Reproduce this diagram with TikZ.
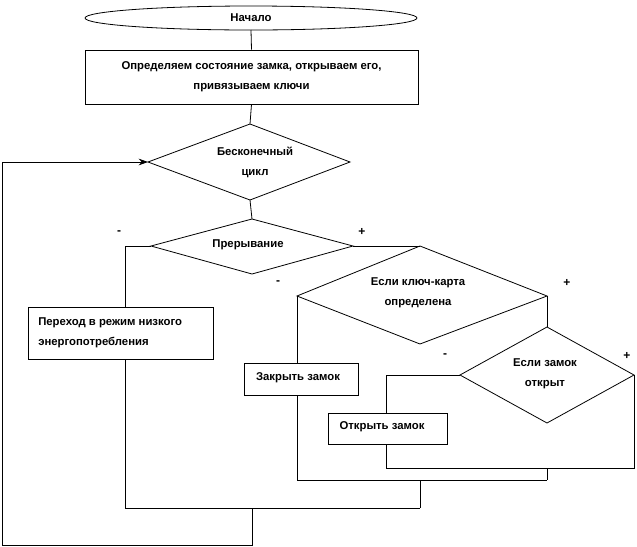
\documentclass[tikz,border=0pt]{standalone}
\usepackage{fontspec}
\setmainfont{Liberation Sans}
\usetikzlibrary{arrows.meta}
\begin{document}
\begin{tikzpicture}[x=0.75pt,y=-0.75pt,
  line/.style={draw=black,line width=0.6pt},
  txt/.style={font=\bfseries\fontsize{8.5}{15}\selectfont,align=center,inner sep=0pt},
  sgn/.style={font=\bfseries\fontsize{9}{10}\selectfont,inner sep=0pt}]
\useasboundingbox (0,0) rectangle (637,547);
% start
\draw[line] (251,18) ellipse (166 and 12);
\node[txt] (start) at (251,18) {Начало};
\node[draw,line width=0.6pt,minimum width=333*0.75pt,minimum height=54*0.75pt,inner sep=0pt] (init) at (251.5,77) {};
\node[txt] at (251.5,77) {Определяем состояние замка, открываем его,\\привязываем ключи};
% diamonds
\coordinate (d1t) at (250,124); \coordinate (d1l) at (148,162); \coordinate (d1r) at (350,162); \coordinate (d1b) at (250,200);
\draw[line] (d1t)--(d1r)--(d1b)--(d1l)--cycle;
\node[txt] (d1) at (255,162) {Бесконечный\\цикл};
\coordinate (d2t) at (252,219); \coordinate (d2l) at (151,246); \coordinate (d2r) at (353,246); \coordinate (d2b) at (252,274);
\draw[line] (d2t)--(d2r)--(d2b)--(d2l)--cycle;
\node[txt] (d2) at (248,245) {Прерывание};
\coordinate (d3t) at (420,246); \coordinate (d3l) at (297,296); \coordinate (d3r) at (547,296); \coordinate (d3b) at (420,344);
\draw[line] (d3t)--(d3r)--(d3b)--(d3l)--cycle;
\node[txt] (d3) at (418,293) {Если ключ-карта\\определена};
\coordinate (d4t) at (547,327); \coordinate (d4l) at (460,375); \coordinate (d4r) at (634,375); \coordinate (d4b) at (547,423);
\draw[line] (d4t)--(d4r)--(d4b)--(d4l)--cycle;
\node[txt] (d4) at (545,374) {Если замок\\открыт};
% boxes
\node[draw,line width=0.6pt,minimum width=185*0.75pt,minimum height=52*0.75pt,inner sep=0pt] (low) at (120.5,333) {};
\node[txt,align=left,anchor=west] at (38,333) {Переход в режим низкого\\энергопотребления};
\node[draw,line width=0.6pt,minimum width=114*0.75pt,minimum height=32*0.75pt,inner sep=0pt] (close) at (301,379) {};
\node[txt] at (298,378) {Закрыть замок};
\node[draw,line width=0.6pt,minimum width=119*0.75pt,minimum height=31*0.75pt,inner sep=0pt] (open) at (387.5,428.5) {};
\node[txt] at (382,427) {Открыть замок};
% connectors
\draw[line] (start.south|-0,30) -- (init.north);
\draw[line] (init.south) -- (d1t);
\draw[line] (d1b) -- (d2t);
\draw[line] (d2l) -| (low.north-|125,0);
\coordinate (m1) at (252,508);
\draw[line] (low.south-|125,0) |- (420,508);
\draw[line] (d2r) -- (d3t);
\draw[line] (d3l) -- (d3l|-close.north);
\draw[line] (d3l|-close.south) |- (547,480);
\draw[line] (d3r) -- (d4t);
\draw[line] (d4l) -| (open.north-|386,0);
\draw[line] (open.south-|386,0) |- (634,468) -- (d4r);
\draw[line] (547,468) -- (547,480);
\draw[line] (420,480) -- (420,508);
\coordinate (lp) at (2,545);
\draw[line,-{Stealth[length=7pt,width=5pt]}] (m1) -- (252,545) -- (lp) |- (d1l);
% signs
\node[sgn] at (119,233) {-};
\node[sgn] at (362,232) {+};
\node[sgn] at (278,283) {-};
\node[sgn] at (567,283) {+};
\node[sgn] at (445,356) {-};
\node[sgn] at (627,356) {+};
\end{tikzpicture}
\end{document}
